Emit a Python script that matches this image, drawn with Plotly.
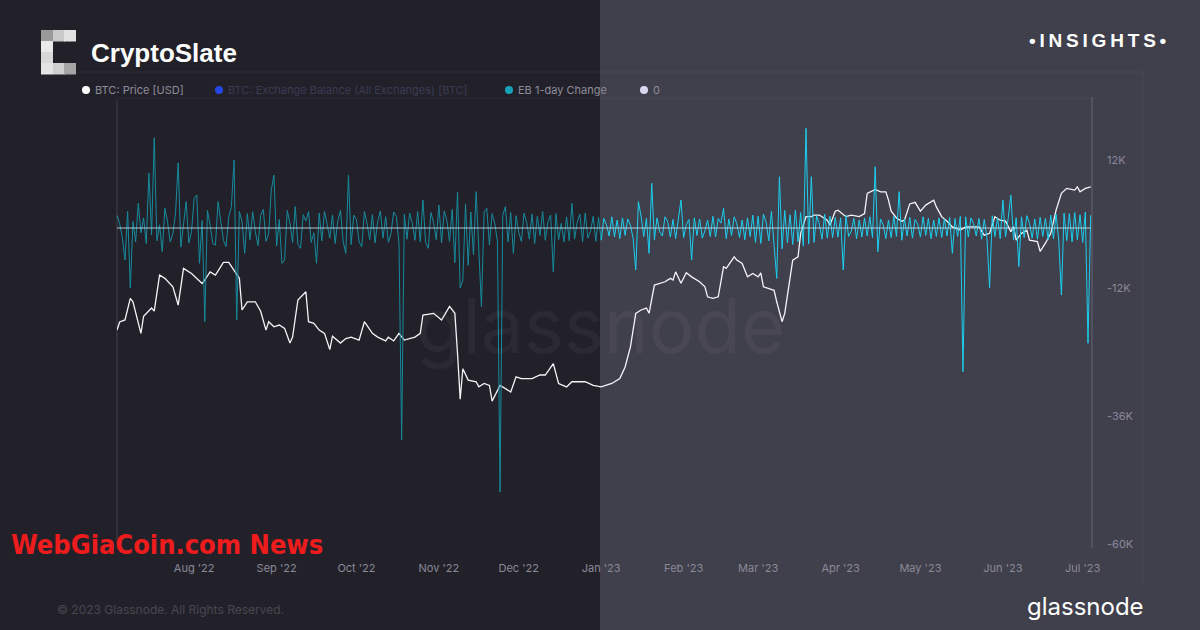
import plotly.graph_objects as go
import pandas as pd

# ---------------- data ----------------
price_dates = [
    "2022-07-03", "2022-07-04", "2022-07-06", "2022-07-08", "2022-07-09", "2022-07-12", "2022-07-13",
    "2022-07-16", "2022-07-17", "2022-07-19", "2022-07-21", "2022-07-24", "2022-07-26", "2022-07-28",
    "2022-07-31", "2022-08-04", "2022-08-05", "2022-08-07", "2022-08-09", "2022-08-12", "2022-08-14",
    "2022-08-16", "2022-08-18", "2022-08-19", "2022-08-21", "2022-08-24", "2022-08-26", "2022-08-28",
    "2022-08-29", "2022-08-31", "2022-09-02", "2022-09-04", "2022-09-06", "2022-09-07", "2022-09-09",
    "2022-09-12", "2022-09-13", "2022-09-15", "2022-09-17", "2022-09-19", "2022-09-21", "2022-09-22",
    "2022-09-25", "2022-09-27", "2022-09-29", "2022-10-02", "2022-10-04", "2022-10-07", "2022-10-09",
    "2022-10-12", "2022-10-13", "2022-10-15", "2022-10-17", "2022-10-19", "2022-10-23", "2022-10-25",
    "2022-10-26", "2022-10-30", "2022-11-02", "2022-11-05", "2022-11-07", "2022-11-08", "2022-11-09",
    "2022-11-10", "2022-11-12", "2022-11-15", "2022-11-16", "2022-11-18", "2022-11-20", "2022-11-21",
    "2022-11-24", "2022-11-26", "2022-11-28", "2022-11-30", "2022-12-02", "2022-12-06", "2022-12-09",
    "2022-12-11", "2022-12-14", "2022-12-16", "2022-12-19", "2022-12-21", "2022-12-26", "2022-12-29",
    "2022-12-31",
    "2023-01-01", "2023-01-05", "2023-01-08", "2023-01-10", "2023-01-12", "2023-01-14", "2023-01-16",
    "2023-01-18", "2023-01-19", "2023-01-21", "2023-01-23", "2023-01-25", "2023-01-27", "2023-01-28",
    "2023-01-29", "2023-01-31", "2023-02-02", "2023-02-04", "2023-02-07", "2023-02-09", "2023-02-10",
    "2023-02-12", "2023-02-14", "2023-02-16", "2023-02-17", "2023-02-20", "2023-02-21", "2023-02-23",
    "2023-02-25", "2023-02-27", "2023-03-01", "2023-03-02", "2023-03-03", "2023-03-05", "2023-03-07",
    "2023-03-08", "2023-03-10", "2023-03-11", "2023-03-13", "2023-03-14", "2023-03-16", "2023-03-17",
    "2023-03-19", "2023-03-21", "2023-03-22", "2023-03-24", "2023-03-27", "2023-03-28", "2023-03-30",
    "2023-03-31", "2023-04-03", "2023-04-05", "2023-04-08", "2023-04-10", "2023-04-11", "2023-04-12",
    "2023-04-14", "2023-04-16", "2023-04-18", "2023-04-19", "2023-04-20", "2023-04-22", "2023-04-24",
    "2023-04-25", "2023-04-27", "2023-04-29", "2023-05-01", "2023-05-03", "2023-05-06", "2023-05-07",
    "2023-05-09", "2023-05-11", "2023-05-13", "2023-05-16", "2023-05-18", "2023-05-21", "2023-05-23",
    "2023-05-25", "2023-05-27", "2023-05-29", "2023-05-31", "2023-06-02", "2023-06-04", "2023-06-05",
    "2023-06-06", "2023-06-08", "2023-06-10", "2023-06-11", "2023-06-14", "2023-06-15", "2023-06-17",
    "2023-06-19", "2023-06-21", "2023-06-23", "2023-06-25", "2023-06-28", "2023-06-29", "2023-06-30",
    "2023-07-02", "2023-07-04",
]
price_usd = [
    19800, 20310, 20440, 21870, 21640, 19600, 20680,
    21220, 21010, 23530, 23290, 22680, 21420, 24030,
    23650, 22920, 23170, 23770, 23530, 24480, 24480,
    23900, 23290, 21090, 21640, 21640, 21010, 19800,
    20330, 20010, 20120, 19910, 19020, 19370, 21760,
    22330, 20330, 20220, 19800, 19600, 18630, 19430,
    19010, 19280, 19370, 19190, 20330, 19600, 19370,
    19140, 19370, 19140, 19600, 19190, 19370, 19600,
    20760, 20870, 20440, 21330, 20870, 18400, 15950,
    17540, 16930, 16840, 16570, 16750, 16650, 15850,
    16650, 16480, 16310, 17100, 17010, 17010, 17200,
    17200, 17830, 16750, 16570, 16840, 16840, 16650,
    16570,
    16570, 16750, 17010, 17640, 18790, 20870, 21090,
    21220, 20870, 22800, 22930, 23040, 23290, 23170,
    23770, 22930, 23700, 23400, 23040, 22680, 21980,
    21870, 21980, 24150, 24030, 24920, 24660, 24400,
    23400, 23650, 23400, 23700, 22680, 22550, 22430,
    21640, 20330, 20870, 23400, 24660, 24920, 26820,
    28260, 28260, 28400, 28400, 27950, 27520, 28750,
    28840, 28260, 28400, 28260, 28530, 30400, 30550,
    30780, 30550, 30550, 29760, 28750, 28140, 27860,
    27950, 29410, 29560, 28750, 29300, 29760, 29140,
    28260, 27860, 27370, 27090, 27370, 27370, 27370,
    26670, 26820, 28260, 27950, 27860, 26960, 27370,
    26250, 26820, 27090, 26250, 26130, 25350, 26000,
    26820, 28840, 30400, 30880, 30710, 31030, 30550,
    30880, 31030,
]

eb_start = "2022-07-03"
eb_change = [
    2400, 800, -1800, -6000, 3100, -11250, 1200, -2600, 4630, -900,
    1900, -2900, 10300, -1300, 16900, -2400, 600, -4440, 3690, 1100,
    -2600, -1100, 2800, 12200, -3600, 900, 4940, -2800, -700, 5560,
    6200, -6620, 1400, -17560, 3300, 500, -2900, -3200, 4940, 1300,
    -2300, -3500, 2100, 4000, 12750, -17250, 3100, 1200, -4750, 2700,
    -2200, 3060, -700, -3300, 2400, 3500, -2500, -1100, 7100, 9900,
    -3400, 1600, -6620, -6000, 3300, 900, -2700, 4000, -3100, -3810,
    2500, 1300, 3060, -2700, -900, -6620, 2800, -2400, 3100, 700,
    -1900, 2440, -2900, 1300, 3300, -2500, -4750, 9900, -3100, 2400,
    1600, -2600, -3500, 3100, 800, -2200, 2500, -2800, 1200, 3200,
    -1900, 2120, -2700, -1000, 3000, 2200, -2900, -39700, 2600, -2100,
    2800, 900, -2300, 3100, -2600, 5250, -2700, -3810, 2900, 1000,
    -2200, 4310, -2800, 3200, 1400, -2500, 3500, -6500, 6750, -11250,
    -9750, 4500, -7000, 3000, -5000, 6810, -4000, -14750, 3000, 3690,
    -3200, 2700, 900, -2500, -49500, 2400, 4000, -2600, 2900, -4750,
    2300, -800, -2500, 2800, 1000, -2100, 2600, -2900, 2200, -1400,
    3100, -2300, 1200, 2440, -8190, 2700, -2200, 900, -2600, 2100,
    -2400, 4630, -2100, 1100, 2600, -2560, 2800, -1900, -600, 2200,
    -2500, 2000, -2300, 1800, 600, -1500, 2100, -1700, 1500, -2000,
    1900, -1400, 1700, 500, -1900, -7875, 4940, 2200, -1600, 1800,
    -4750, 8380, -2200, 1900, -700, -1500, 2100, 1200, -1700, 1600,
    -2000, 1800, 5250, -1800, 600, 1600, -6000, 1900, -1400, 1700,
    -1900, -500, 1500, -1600, 2200, -1700, 1800, 900, 3690, -2000,
    1700, -1400, 2100, 800, -1800, 1500, -2200, 1900, -1600, 2400,
    -2700, 2200, -2900, 2600, 1100, -2400, 3100, -3300, -9440, 9620,
    -3900, 3300, -2800, 2500, -3100, 3375, -2600, 2900, -3400, 18690,
    -3000, 9620, -2700, 2300, 700, -2100, 2600, -1900, 2200, -1800,
    2000, -1700, 1900, -7875, 2400, -1600, -600, 1800, -2000, 1500,
    -1700, 1900, -1500, 2100, -1800, 11500, -4440, 1700, 600, -2000,
    1500, -1800, 2200, -1600, 6810, -2300, 1700, -1500, 2000, -1900,
    1600, 700, -1700, 2100, -1400, 1800, -2000, 1500, -1600, 1900,
    -1800, 1700, -1500, 2000, -4750, 1800, -1600, 2200, -26940, 2100,
    -1700, 1900, 800, -1500, 1800, -2100, 1600, -1800, -11250, 2300,
    -1600, 1900, -2000, 5250, -1700, 1800, 6190, -2200, 1900, -7250,
    2100, -1800, 2300, 900, -1900, 1700, -2100, 2000, -1600, 1800,
    -2200, 2400, -2000, 2600, -2300, -12560, 2800, -2400, 2700, -2600,
    2900, -2200, 2500, -2700, 3000, -21620, 2400,
]

y2_tickvals = [12000, -12000, -36000, -60000]
y2_ticktext = ["12K", "-12K", "-36K", "-60K"]
split_date = "2023-01-01"

# ---------------- geometry helpers (page pixels -> paper) ----------------
W, H = 1200, 630
L, R, T, B = 117, 1092, 100, 548


def px(x):
    return (x - L) / (R - L)


def py(y):
    return (B - y) / (B - T)


eb_dates = pd.date_range(eb_start, periods=len(eb_change), freq="D")
eb = pd.Series(eb_change, index=eb_dates)
eb_left = eb[eb.index <= split_date]
eb_right = eb[eb.index >= split_date]

fig = go.Figure()

fig.add_trace(go.Scatter(x=eb_left.index, y=eb_left.values, yaxis="y2", mode="lines",
                         line=dict(color="#168a9c", width=1), showlegend=False, hoverinfo="skip"))
fig.add_trace(go.Scatter(x=eb_right.index, y=eb_right.values, yaxis="y2", mode="lines",
                         line=dict(color="#1ccfee", width=1), showlegend=False, hoverinfo="skip"))
fig.add_trace(go.Scatter(x=[eb_dates[0], eb_dates[-1]], y=[0, 0], yaxis="y2", mode="lines",
                         line=dict(color="rgba(205,235,250,0.55)", width=1.6), showlegend=False,
                         hoverinfo="skip"))
fig.add_trace(go.Scatter(x=pd.to_datetime(price_dates), y=price_usd, yaxis="y", mode="lines",
                         line=dict(color="#f4f4f8", width=1.3), showlegend=False))

shapes = [
    # background halves
    dict(type="rect", xref="paper", yref="paper", x0=px(0), x1=px(600), y0=py(H), y1=py(0),
         fillcolor="#22212a", line_width=0, layer="below"),
    dict(type="rect", xref="paper", yref="paper", x0=px(600), x1=px(W), y0=py(H), y1=py(0),
         fillcolor="#403f4c", line_width=0, layer="below"),
    # faint frame
    dict(type="line", xref="paper", yref="paper", x0=px(55), x1=px(1143), y0=py(72), y1=py(72),
         line=dict(color="rgba(255,255,255,0.05)", width=1), layer="below"),
    dict(type="line", xref="paper", yref="paper", x0=px(1143), x1=px(1143), y0=py(72), y1=py(585),
         line=dict(color="rgba(255,255,255,0.05)", width=1), layer="below"),
    dict(type="line", xref="paper", yref="paper", x0=px(L), x1=px(R), y0=py(98), y1=py(98),
         line=dict(color="rgba(255,255,255,0.04)", width=1), layer="below"),
    # axis lines
    dict(type="line", xref="paper", yref="paper", x0=0, x1=0, y0=py(540), y1=py(100),
         line=dict(color="rgba(255,255,255,0.15)", width=1)),
    dict(type="line", xref="paper", yref="paper", x0=1, x1=1, y0=0, y1=py(97),
         line=dict(color="#5f5e6d", width=1.2)),
]

# CryptoSlate pixel logo
cells = [
    (41, 30, "#9a9a9a"), (53, 30, "#c9c9c9"), (64, 30, "#e2e2e2"),
    (41, 41, "#e9e9e9"),
    (41, 52, "#d8d8d8"),
    (41, 63, "#e4e4e4"), (53, 63, "#cfcfcf"), (64, 63, "#a5a5a5"),
]
for cx, cy, col in cells:
    shapes.append(dict(type="rect", xref="paper", yref="paper", x0=px(cx), x1=px(cx + 12),
                       y0=py(cy + 11.5), y1=py(cy), fillcolor=col, line_width=0))

# legend dots
for cx, col in [(86, "#ffffff"), (219, "#2446e4"), (509, "#16a2b8"), (644, "#d8d8f0")]:
    shapes.append(dict(type="circle", xref="paper", yref="paper", x0=px(cx - 4), x1=px(cx + 4),
                       y0=py(94), y1=py(86), fillcolor=col, line_width=0))

fig.update_layout(shapes=shapes)

legend_font = dict(family="Inter, Roboto, sans-serif", size=11, color="#8d8c9a")
annotations = [
    dict(text="BTC: Price [USD]", x=px(93), y=py(90.5), xanchor="left", yanchor="middle", font=legend_font),
    dict(text="BTC: Exchange Balance (All Exchanges) [BTC]", x=px(226), y=py(90.5), xanchor="left",
         yanchor="middle", font=dict(family="Inter, Roboto, sans-serif", size=11, color="rgba(80,80,120,0.55)")),
    dict(text="EB 1-day Change", x=px(516), y=py(90.5), xanchor="left", yanchor="middle", font=legend_font),
    dict(text="0", x=px(651), y=py(90.5), xanchor="left", yanchor="middle", font=legend_font),
    dict(text="<b>CryptoSlate</b>", x=px(89), y=py(53), xanchor="left", yanchor="middle",
         font=dict(family="Liberation Sans, Arial, sans-serif", size=26, color="#ffffff")),
    dict(text="<b>•\u2009I\u2009N\u2009S\u2009I\u2009G\u2009H\u2009T\u2009S\u2009•</b>", x=px(1169), y=py(41),
         xanchor="right", yanchor="middle",
         font=dict(family="Liberation Sans, Arial, sans-serif", size=19, color="#ffffff")),
    dict(text="glassnode", x=px(600), y=py(325), xanchor="center", yanchor="middle",
         font=dict(family="Inter, Lato, sans-serif", size=76, color="rgba(255,255,255,0.045)")),
    dict(text="© 2023 Glassnode. All Rights Reserved.", x=px(55), y=py(609), xanchor="left", yanchor="middle",
         font=dict(family="Inter, Roboto, sans-serif", size=12, color="#48474f")),
    dict(text="glassnode", x=px(1146), y=py(606), xanchor="right", yanchor="middle",
         font=dict(family="Inter, Lato, sans-serif", size=24, color="#ffffff")),
    dict(text="<b>WebGiaCoin.com News</b>", x=px(9), y=py(544), xanchor="left", yanchor="middle",
         font=dict(family="Liberation Sans Narrow, DejaVu Sans Condensed, Liberation Sans, sans-serif",
                   size=27, color="#ee1c1c")),
]
for a in annotations:
    a.update(xref="paper", yref="paper", showarrow=False)
fig.update_layout(annotations=annotations)

fig.update_layout(
    width=W, height=H,
    margin=dict(l=L, r=W - R, t=T, b=H - B, pad=0),
    paper_bgcolor="#22212a",
    plot_bgcolor="rgba(0,0,0,0)",
    showlegend=False,
    xaxis=dict(
        type="date",
        range=["2022-07-03", "2023-07-04 12:00"],
        tick0="2022-08-01", dtick="M1", tickformat="%b '%y",
        showgrid=False, zeroline=False, showline=False, ticks="",
        ticklabelstandoff=12,
        tickfont=dict(family="Inter, Roboto, sans-serif", size=11, color="#8a8997"),
    ),
    yaxis=dict(type="log", range=[4, 4.61], visible=False, showgrid=False),
    yaxis2=dict(
        overlaying="y", side="right", range=[-60000, 24000],
        tickvals=y2_tickvals, ticktext=y2_ticktext,
        showgrid=False, zeroline=False, showline=False, ticks="",
        ticklabelstandoff=14, ticklabelshift=-4,
        tickfont=dict(family="Inter, Roboto, sans-serif", size=11, color="#8a8997"),
    ),
)

fig.write_html("out.html", config={"displayModeBar": False},
               post_script="document.body.style.margin='0';")
